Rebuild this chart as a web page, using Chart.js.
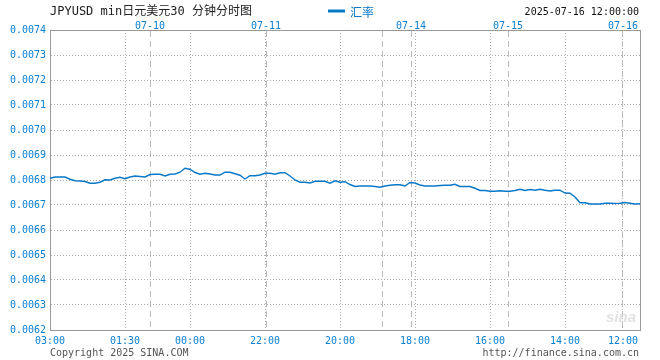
<!DOCTYPE html>
<html lang="zh">
<head>
<meta charset="UTF-8">
<title>JPYUSD 30分钟分时图</title>
<script src="https://cdn.jsdelivr.net/npm/chart.js"></script>
<style>
  html, body { margin: 0; padding: 0; background: #fff; }
  #wrap { width: 660px; height: 360px; }
</style>
</head>
<body>
<div id="wrap"><canvas id="fxChart" width="660" height="360"></canvas></div>
<script>
// 汇率 (每 30 分钟一个点, 从左到右)
const rates = [
  0.006807, 0.006812, 0.006812, 0.006812, 0.006803, 0.006797, 0.006796, 0.006794, 0.006787, 0.006787,
  0.006791, 0.006801, 0.006800, 0.006807, 0.006811, 0.006805, 0.006812, 0.006816, 0.006814, 0.006812,
  0.006822, 0.006823, 0.006823, 0.006816, 0.006823, 0.006824, 0.006831, 0.006847, 0.006843, 0.006830,
  0.006823, 0.006827, 0.006824, 0.006820, 0.006820, 0.006831, 0.006831, 0.006825, 0.006819, 0.006804,
  0.006817, 0.006817, 0.006820, 0.006827, 0.006827, 0.006823, 0.006829, 0.006829, 0.006816, 0.006800,
  0.006791, 0.006791, 0.006788, 0.006795, 0.006795, 0.006795, 0.006787, 0.006797, 0.006791, 0.006793,
  0.006782, 0.006774, 0.006776, 0.006776, 0.006776, 0.006774, 0.006771, 0.006776, 0.006779, 0.006781,
  0.006781, 0.006776, 0.006790, 0.006788, 0.006780, 0.006776, 0.006776, 0.006776, 0.006778, 0.006779,
  0.006779, 0.006783, 0.006774, 0.006774, 0.006774, 0.006767, 0.006758, 0.006758, 0.006755, 0.006755,
  0.006757, 0.006755, 0.006755, 0.006758, 0.006763, 0.006758, 0.006762, 0.006759, 0.006763, 0.006759,
  0.006756, 0.006759, 0.006759, 0.006748, 0.006747, 0.006732, 0.006709, 0.006709, 0.006704, 0.006704,
  0.006704, 0.006707, 0.006707, 0.006706, 0.006707, 0.006710, 0.006707, 0.006704, 0.006705
];

// 底部时间刻度 (点的序号)
const timeLabels = ['03:00', '01:30', '00:00', '22:00', '20:00', '18:00', '16:00', '14:00', '12:00'];
const timeIdx = [0, 15, 28, 43, 58, 73, 88, 103, 114.6];

// 顶部日期分界
const dayLabels = ['07-10', '07-11', '', '07-14', '07-15', '07-16'];
const dayIdx = [20, 43.2, 66.4, 72.2, 91.6, 114.6];

const yMin = 0.0062, yMax = 0.0074, yStep = 0.0001;

const blue = '#0a7fd0';
const mono = "'DejaVu Sans Mono', monospace";

// 标题、图例、日期、版权
const headerPlugin = {
  id: 'header',
  afterDraw(chart) {
    const c = chart.ctx;
    const ds = chart.data.datasets[0];
    c.save();
    c.textBaseline = 'middle';
    c.fillStyle = '#222';
    c.font = "12px 'DejaVu Sans Mono', 'Noto Sans CJK SC'";
    c.textAlign = 'left';
    c.fillText('JPYUSD min日元美元30 分钟分时图', 50, 12);

    // 图例
    c.strokeStyle = ds.borderColor;
    c.lineWidth = 3;
    c.beginPath();
    c.moveTo(328, 11);
    c.lineTo(345, 11);
    c.stroke();
    c.fillStyle = ds.borderColor;
    c.font = "12px 'Noto Sans CJK SC'";
    c.fillText(ds.label, 350, 12);

    c.fillStyle = '#111';
    c.font = '10px ' + mono;
    c.textAlign = 'right';
    c.fillText('2025-07-16 12:00:00', 639, 12);

    c.fillStyle = '#555';
    c.textAlign = 'left';
    c.fillText('Copyright 2025 SINA.COM', 50, 353);
    c.textAlign = 'right';
    c.fillText('http://finance.sina.com.cn', 639, 353);

    // 水印
    c.fillStyle = '#e2e2e2';
    c.font = "italic bold 15px 'Liberation Sans'";
    c.fillText('sina', 636, 318);
    c.restore();
  }
};

new Chart(document.getElementById('fxChart'), {
  type: 'line',
  data: {
    datasets: [{
      label: '汇率',
      data: rates.map((v, i) => ({ x: i, y: v })),
      borderColor: '#0a78c8',
      borderWidth: 1.4,
      pointRadius: 0,
      tension: 0,
      fill: false
    }]
  },
  options: {
    responsive: false,
    animation: false,
    layout: { padding: 0 },
    plugins: { legend: { display: false }, tooltip: { enabled: false } },
    scales: {
      x: {
        type: 'linear',
        position: 'bottom',
        min: 0,
        max: rates.length - 1,
        afterFit: s => { s.height = 30; },
        afterBuildTicks: s => { s.ticks = timeIdx.map(v => ({ value: v })); },
        ticks: {
          autoSkip: false,
          maxRotation: 0,
          padding: 5,
          color: blue,
          font: { family: mono, size: 10 },
          callback: (v, i) => timeLabels[i]
        },
        grid: { color: '#aaa', drawTicks: false },
        border: { color: '#999', dash: [1, 2] }
      },
      xTop: {
        type: 'linear',
        position: 'top',
        min: 0,
        max: rates.length - 1,
        afterFit: s => { s.height = 30; },
        afterBuildTicks: s => { s.ticks = dayIdx.map(v => ({ value: v })); },
        ticks: {
          autoSkip: false,
          maxRotation: 0,
          padding: -2,
          color: blue,
          font: { family: mono, size: 10 },
          callback: (v, i) => dayLabels[i]
        },
        grid: { color: '#bbb', drawTicks: false },
        border: { color: '#999', dash: [6, 4] }
      },
      y: {
        position: 'left',
        min: yMin,
        max: yMax,
        afterFit: s => { s.width = 50; },
        ticks: {
          stepSize: yStep,
          padding: 4,
          color: blue,
          font: { family: mono, size: 10 },
          callback: v => v.toFixed(4)
        },
        grid: { color: '#aaa', drawTicks: false },
        border: { color: '#999', dash: [1, 2] }
      },
      yRight: {
        position: 'right',
        min: yMin,
        max: yMax,
        afterFit: s => { s.width = 20; },
        ticks: { display: false },
        grid: { drawOnChartArea: false, drawTicks: false },
        border: { color: '#999' }
      }
    }
  },
  plugins: [headerPlugin]
});
</script>
</body>
</html>
